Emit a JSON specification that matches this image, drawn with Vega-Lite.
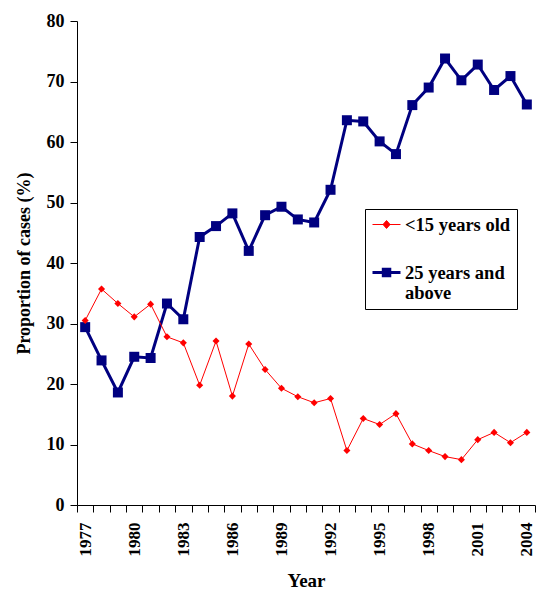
{
  "$schema": "https://vega.github.io/schema/vega-lite/v6.json",
  "width": 458,
  "height": 484,
  "autosize": {"type": "none"},
  "padding": {"left": 77, "top": 21, "right": 2, "bottom": 85},
  "background": "white",
  "config": {
    "view": {"stroke": null},
    "font": "Liberation Serif",
    "axis": {
      "labelFont": "Liberation Serif", "labelFontWeight": "bold", "labelColor": "black",
      "titleFont": "Liberation Serif", "titleFontWeight": "bold", "titleColor": "black",
      "domainColor": "black", "tickColor": "black", "grid": false
    },
    "legend": {"labelFont": "Liberation Serif", "labelFontWeight": "bold"}
  },
  "data": {"values": [
    {"year": 1977, "series": "<15 years old", "value": 30.5},
    {"year": 1978, "series": "<15 years old", "value": 35.7},
    {"year": 1979, "series": "<15 years old", "value": 33.3},
    {"year": 1980, "series": "<15 years old", "value": 31.1},
    {"year": 1981, "series": "<15 years old", "value": 33.2},
    {"year": 1982, "series": "<15 years old", "value": 27.8},
    {"year": 1983, "series": "<15 years old", "value": 26.8},
    {"year": 1984, "series": "<15 years old", "value": 19.8},
    {"year": 1985, "series": "<15 years old", "value": 27.1},
    {"year": 1986, "series": "<15 years old", "value": 18.0},
    {"year": 1987, "series": "<15 years old", "value": 26.6},
    {"year": 1988, "series": "<15 years old", "value": 22.4},
    {"year": 1989, "series": "<15 years old", "value": 19.3},
    {"year": 1990, "series": "<15 years old", "value": 17.9},
    {"year": 1991, "series": "<15 years old", "value": 16.9},
    {"year": 1992, "series": "<15 years old", "value": 17.6},
    {"year": 1993, "series": "<15 years old", "value": 9.0},
    {"year": 1994, "series": "<15 years old", "value": 14.3},
    {"year": 1995, "series": "<15 years old", "value": 13.3},
    {"year": 1996, "series": "<15 years old", "value": 15.1},
    {"year": 1997, "series": "<15 years old", "value": 10.1},
    {"year": 1998, "series": "<15 years old", "value": 9.0},
    {"year": 1999, "series": "<15 years old", "value": 8.0},
    {"year": 2000, "series": "<15 years old", "value": 7.5},
    {"year": 2001, "series": "<15 years old", "value": 10.8},
    {"year": 2002, "series": "<15 years old", "value": 12.0},
    {"year": 2003, "series": "<15 years old", "value": 10.3},
    {"year": 2004, "series": "<15 years old", "value": 12.0},
    {"year": 1977, "series": "25 years and above", "value": 29.4},
    {"year": 1978, "series": "25 years and above", "value": 23.9},
    {"year": 1979, "series": "25 years and above", "value": 18.6},
    {"year": 1980, "series": "25 years and above", "value": 24.5},
    {"year": 1981, "series": "25 years and above", "value": 24.3},
    {"year": 1982, "series": "25 years and above", "value": 33.3},
    {"year": 1983, "series": "25 years and above", "value": 30.7},
    {"year": 1984, "series": "25 years and above", "value": 44.3},
    {"year": 1985, "series": "25 years and above", "value": 46.1},
    {"year": 1986, "series": "25 years and above", "value": 48.2},
    {"year": 1987, "series": "25 years and above", "value": 42.0},
    {"year": 1988, "series": "25 years and above", "value": 47.9},
    {"year": 1989, "series": "25 years and above", "value": 49.3},
    {"year": 1990, "series": "25 years and above", "value": 47.2},
    {"year": 1991, "series": "25 years and above", "value": 46.7},
    {"year": 1992, "series": "25 years and above", "value": 52.1},
    {"year": 1993, "series": "25 years and above", "value": 63.6},
    {"year": 1994, "series": "25 years and above", "value": 63.4},
    {"year": 1995, "series": "25 years and above", "value": 60.1},
    {"year": 1996, "series": "25 years and above", "value": 58.0},
    {"year": 1997, "series": "25 years and above", "value": 66.1},
    {"year": 1998, "series": "25 years and above", "value": 69.0},
    {"year": 1999, "series": "25 years and above", "value": 73.8},
    {"year": 2000, "series": "25 years and above", "value": 70.2},
    {"year": 2001, "series": "25 years and above", "value": 72.8},
    {"year": 2002, "series": "25 years and above", "value": 68.6},
    {"year": 2003, "series": "25 years and above", "value": 70.9},
    {"year": 2004, "series": "25 years and above", "value": 66.2}
  ]},
  "encoding": {
    "x": {
      "field": "year", "type": "ordinal",
      "scale": {"paddingInner": 0, "paddingOuter": 0},
      "axis": {
        "title": "Year", "titleFontSize": 19, "titlePadding": 15,
        "labelAngle": 270, "labelFontSize": 17, "labelPadding": 10,
        "tickSize": 7, "tickBand": "extent",
        "labelExpr": "(datum.value - 1977) % 3 == 0 ? datum.label : ''"
      }
    },
    "y": {
      "field": "value", "type": "quantitative",
      "scale": {"domain": [0, 80], "nice": false},
      "axis": {
        "title": "Proportion of cases (%)", "titleFontSize": 18, "titlePadding": 13,
        "values": [0, 10, 20, 30, 40, 50, 60, 70, 80],
        "labelFontSize": 18, "labelPadding": 6, "tickSize": 7
      }
    }
  },
  "layer": [
    {
      "transform": [{"filter": "datum.series == '25 years and above'"}],
      "mark": {"type": "line", "color": "#000080", "strokeWidth": 3}
    },
    {
      "transform": [{"filter": "datum.series == '25 years and above'"}],
      "mark": {"type": "point", "shape": "square", "filled": true, "color": "#000080", "size": 100, "opacity": 1}
    },
    {
      "transform": [{"filter": "datum.series == '<15 years old'"}],
      "mark": {"type": "line", "color": "#ff0000", "strokeWidth": 1}
    },
    {
      "transform": [{"filter": "datum.series == '<15 years old'"}],
      "mark": {"type": "point", "shape": "diamond", "filled": true, "color": "#ff0000", "size": 50, "opacity": 1}
    },
    {
      "transform": [{"filter": "datum.value < 0"}],
      "mark": {"type": "point", "filled": true, "opacity": 1},
      "encoding": {
        "fill": {
          "field": "series", "type": "nominal",
          "scale": {"domain": ["<15 years old", "25 years and above"], "range": ["#ff0000", "#000080"]},
          "legend": {
            "orient": "none", "legendX": 288, "legendY": 188, "title": null,
            "labelExpr": "datum.label == '25 years and above' ? ['25 years and', 'above'] : datum.label",
            "labelFont": "Liberation Serif", "labelFontWeight": "bold", "labelFontSize": 18.5, "labelColor": "black",
            "labelLimit": 300, "labelOffset": 13,
            "symbolSize": 324, "symbolOpacity": 1,
            "fillColor": "white", "strokeColor": "black", "padding": 6, "rowPadding": 28
          }
        },
        "stroke": {
          "field": "series", "type": "nominal",
          "scale": {"domain": ["<15 years old", "25 years and above"], "range": ["#ff0000", "#000080"]}
        },
        "strokeWidth": {
          "field": "series", "type": "nominal",
          "scale": {"domain": ["<15 years old", "25 years and above"], "range": [1, 3]}
        },
        "shape": {
          "field": "series", "type": "nominal",
          "scale": {"domain": ["<15 years old", "25 years and above"], "range": ["M-1,0H2.11M0.56,-0.44L0.95,0L0.56,0.44L0.17,0Z", "M-1,0H2.11M0.2,-0.36H0.92V0.36H0.2Z"]}
        }
      }
    }
  ]
}
